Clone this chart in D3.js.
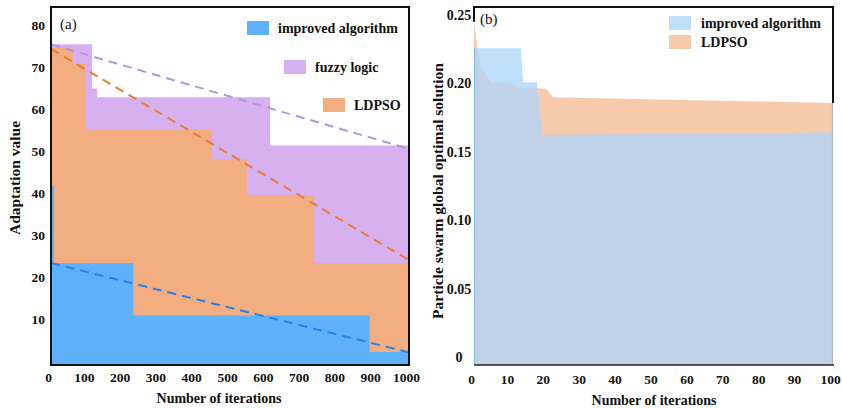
<!DOCTYPE html>
<html>
<head>
<meta charset="utf-8">
<script src="https://cdn.jsdelivr.net/npm/d3@7"></script>
<style>
  html, body { margin: 0; padding: 0; background: #fff; }
  svg { display: block; }
  text { font-family: "Liberation Serif", "Times New Roman", serif; fill: #111; }
</style>
</head>
<body>
<svg id="chart" width="842" height="408"></svg>
<script>
// ---------- Panel (a): adaptation value vs. iterations ----------
const aFuzzyIter    = [0, 115, 129, 612, 1000];
const aFuzzyVal     = [75.4, 64.9, 62.8, 51.3, 51.3];
const aLdpsoIter    = [0, 61, 95, 450, 547, 735, 1000];
const aLdpsoVal     = [74.7, 70.7, 55.2, 48.1, 39.5, 23.3, 23.3];
const aImprovedIter = [0, 8, 230, 890, 1000];
const aImprovedVal  = [41.7, 23.3, 10.8, 2.1, 2.1];

// straight trend lines (start and end values)
const aTrendIter     = [0, 1000];
const aFuzzyTrend    = [75.4, 50.5];
const aLdpsoTrend    = [74.3, 24.0];
const aImprovedTrend = [23.3, 2.0];

const aXTicks = [0, 100, 200, 300, 400, 500, 600, 700, 800, 900, 1000];
const aYTicks = [10, 20, 30, 40, 50, 60, 70, 80];

// ---------- Panel (b): particle swarm global optimal solution ----------
const bImprovedIter = [0, 13, 13.7, 17.5, 19, 100];
const bImprovedVal  = [0.2257, 0.2257, 0.2008, 0.2008, 0.1623, 0.164];
const bLdpsoIter    = [0, 1, 2, 3, 4.5, 10, 12, 20, 22, 100];
const bLdpsoVal     = [0.245, 0.224, 0.2085, 0.2085, 0.2008, 0.2008, 0.197, 0.196, 0.1898, 0.1856];

const bXTicks = [0, 10, 20, 30, 40, 50, 60, 70, 80, 90, 100];
const bYTicks = [0, 0.05, 0.10, 0.15, 0.20, 0.25];
const bYLabels = ["0", "0.05", "0.10", "0.15", "0.20", "0.25"];

const zip = (xs, ys) => xs.map((x, i) => [x, ys[i]]);

const svg = d3.select("#chart");

// ================= Panel (a) =================
const xa = d3.scaleLinear().domain([0, 1000]).range([51, 409]);
const ya = d3.scaleLinear().domain([-1, 84.3]).range([365, 7]);
const aBase = ya.range()[0];

const gA = svg.append("g");

const stepArea = d3.area()
  .curve(d3.curveStepAfter)
  .x(d => xa(d[0]))
  .y0(aBase)
  .y1(d => ya(d[1]));

gA.append("path").datum(zip(aFuzzyIter, aFuzzyVal))
  .attr("d", stepArea).attr("fill", "#d6b0ef");
gA.append("path").datum(zip(aLdpsoIter, aLdpsoVal))
  .attr("d", stepArea).attr("fill", "#f2ae81");
gA.append("path").datum(zip(aImprovedIter, aImprovedVal))
  .attr("d", stepArea).attr("fill", "#5eb0fb");

const trendLine = d3.line().x(d => xa(d[0])).y(d => ya(d[1]));
[[aFuzzyTrend, "#b893e8"], [aLdpsoTrend, "#ec7b34"], [aImprovedTrend, "#2284e8"]]
  .forEach(([vals, col]) => {
    gA.append("path").datum(zip(aTrendIter, vals))
      .attr("d", trendLine)
      .attr("fill", "none")
      .attr("stroke", col)
      .attr("stroke-width", 2)
      .attr("stroke-dasharray", "9,6");
  });

// frame
gA.append("rect")
  .attr("x", xa.range()[0]).attr("y", ya.range()[1])
  .attr("width", xa.range()[1] - xa.range()[0])
  .attr("height", ya.range()[0] - ya.range()[1])
  .attr("fill", "none").attr("stroke", "#111").attr("stroke-width", 2);

// axes
const axA_x = gA.append("g")
  .attr("transform", `translate(0,${aBase})`)
  .call(d3.axisBottom(xa).tickValues(aXTicks).tickSize(0).tickPadding(7).tickFormat(d3.format("d")));
axA_x.select(".domain").remove();
axA_x.selectAll("text").attr("dx", -3);

const axA_y = gA.append("g")
  .attr("transform", `translate(${xa.range()[0]},0)`)
  .call(d3.axisLeft(ya).tickValues(aYTicks).tickSize(0).tickPadding(6).tickFormat(d3.format("d")));
axA_y.select(".domain").remove();

[axA_x, axA_y].forEach(ax => ax.selectAll("text")
  .attr("font-family", "Liberation Serif, Times New Roman, serif")
  .attr("font-size", 13.5).attr("font-weight", "bold").attr("fill", "#111"));

gA.append("text").attr("x", 60).attr("y", 29)
  .attr("font-size", 15).text("(a)");

gA.append("text")
  .attr("transform", "translate(20,178) rotate(-90)")
  .attr("text-anchor", "middle").attr("font-size", 15.5).attr("font-weight", "bold")
  .text("Adaptation value");

gA.append("text")
  .attr("x", 219).attr("y", 403)
  .attr("text-anchor", "middle").attr("font-size", 14).attr("font-weight", "bold")
  .text("Number of iterations");

// legend (a)
const legA = [
  { label: "improved algorithm", color: "#5eb0fb", sx: 247, sy: 21, tx: 278 },
  { label: "fuzzy logic",        color: "#d6b0ef", sx: 284, sy: 60, tx: 315 },
  { label: "LDPSO",              color: "#f2ae81", sx: 323, sy: 98, tx: 354 }
];
legA.forEach(l => {
  gA.append("rect").attr("x", l.sx).attr("y", l.sy).attr("width", 22).attr("height", 14).attr("fill", l.color);
  gA.append("text").attr("x", l.tx).attr("y", l.sy + 12)
    .attr("font-size", 14).attr("font-weight", "bold").text(l.label);
});

// ================= Panel (b) =================
const xb = d3.scaleLinear().domain([0, 100]).range([474, 833]);
const yb = d3.scaleLinear().domain([-0.00585, 0.2558]).range([365, 7]);
const bBase = yb.range()[0];

const gB = svg.append("g");

const ldpsoB = zip(bLdpsoIter, bLdpsoVal);
const improvedB = zip(bImprovedIter, bImprovedVal);

// frame segments above the data
gB.append("line").attr("x1", xb(0)).attr("x2", xb(100)).attr("y1", 7).attr("y2", 7)
  .attr("stroke", "#111").attr("stroke-width", 2);
gB.append("line").attr("x1", xb(0)).attr("x2", xb(0)).attr("y1", 6).attr("y2", yb(bLdpsoVal[0]))
  .attr("stroke", "#111").attr("stroke-width", 2);
gB.append("line").attr("x1", xb(100)).attr("x2", xb(100)).attr("y1", 6).attr("y2", yb(bLdpsoVal[bLdpsoVal.length - 1]))
  .attr("stroke", "#111").attr("stroke-width", 2);

const areaB = d3.area()
  .x(d => xb(d[0]))
  .y0(bBase)
  .y1(d => yb(d[1]));

gB.append("path").datum(ldpsoB).attr("d", areaB).attr("fill", "#f6caab");
gB.append("path").datum(improvedB).attr("d", areaB).attr("fill", "#bee0fb");

// overlapping part of the two series
svg.append("defs").append("clipPath").attr("id", "clipImproved")
  .append("path").datum(improvedB).attr("d", areaB);
gB.append("path").datum(ldpsoB).attr("d", areaB)
  .attr("fill", "#c0d2e7").attr("clip-path", "url(#clipImproved)");

// side edges of the filled region
gB.append("line").attr("x1", xb(0) + 0.5).attr("x2", xb(0) + 0.5)
  .attr("y1", yb(bImprovedVal[0])).attr("y2", bBase)
  .attr("stroke", "#8dbbe6").attr("stroke-width", 1.2);
gB.append("line").attr("x1", xb(100) - 0.5).attr("x2", xb(100) - 0.5)
  .attr("y1", yb(bLdpsoVal[bLdpsoVal.length - 1])).attr("y2", bBase)
  .attr("stroke", "#a9b6c4").attr("stroke-width", 1.2);

gB.append("line").attr("x1", xb(0)).attr("x2", xb(100) + 1).attr("y1", bBase).attr("y2", bBase)
  .attr("stroke", "#222").attr("stroke-width", 1.6);

const axB_x = gB.append("g")
  .attr("transform", `translate(0,${bBase})`)
  .call(d3.axisBottom(xb).tickValues(bXTicks).tickSize(0).tickPadding(9).tickFormat(d3.format("d")));
axB_x.select(".domain").remove();
axB_x.selectAll("text").attr("dx", -3);

const axB_y = gB.append("g")
  .attr("transform", `translate(${xb.range()[0]},0)`)
  .call(d3.axisLeft(yb).tickValues(bYTicks).tickSize(0).tickPadding(15).tickFormat((d, i) => bYLabels[i]));
axB_y.select(".domain").remove();
axB_y.selectAll("text").attr("text-anchor", "middle");

axB_x.selectAll("text")
  .attr("font-family", "Liberation Serif, Times New Roman, serif")
  .attr("font-size", 13.5).attr("font-weight", "bold").attr("fill", "#111");
axB_y.selectAll("text")
  .attr("font-family", "Liberation Serif, Times New Roman, serif")
  .attr("font-size", 14).attr("font-weight", "bold").attr("fill", "#111");

gB.append("text").attr("x", 480).attr("y", 24)
  .attr("font-size", 15).text("(b)");

gB.append("text")
  .attr("transform", "translate(443,191) rotate(-90)")
  .attr("text-anchor", "middle").attr("font-size", 15.5).attr("font-weight", "bold")
  .text("Particle swarm global optimal solution");

gB.append("text")
  .attr("x", 654).attr("y", 405)
  .attr("text-anchor", "middle").attr("font-size", 14).attr("font-weight", "bold")
  .text("Number of iterations");

const legB = [
  { label: "improved algorithm", color: "#bee0fb", sy: 16 },
  { label: "LDPSO",              color: "#f6caab", sy: 35 }
];
legB.forEach(l => {
  gB.append("rect").attr("x", 669).attr("y", l.sy).attr("width", 22).attr("height", 14).attr("fill", l.color);
  gB.append("text").attr("x", 701).attr("y", l.sy + 12)
    .attr("font-size", 14).attr("font-weight", "bold").text(l.label);
});
</script>
</body>
</html>
